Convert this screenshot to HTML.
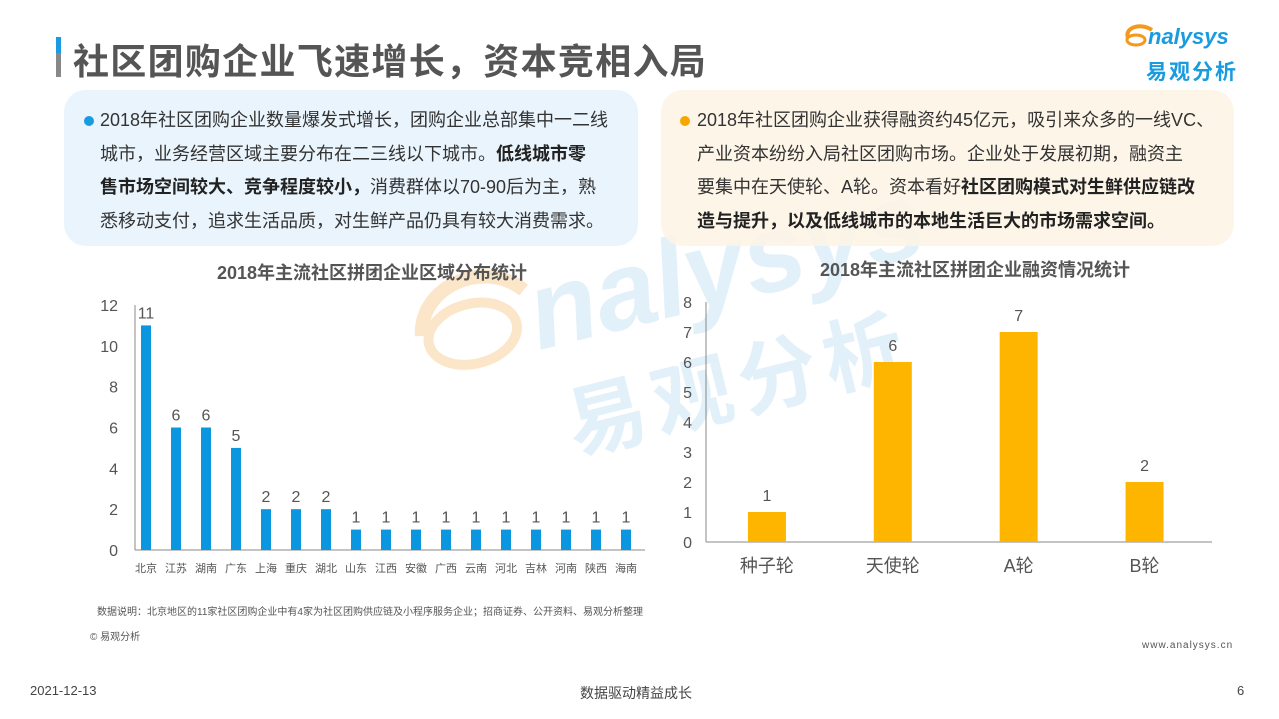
<!DOCTYPE html>
<html><head><meta charset="utf-8">
<style>
body{margin:0;width:1279px;height:719px;background:#fff;position:relative;overflow:hidden;font-family:"Liberation Sans","Noto Sans CJK SC",sans-serif;color:#333}
.abs{position:absolute}
.box{position:absolute;top:90px;height:156px;border-radius:22px;font-size:18px;line-height:33.5px;box-sizing:border-box;padding:14px 0 0 0}
.box p{margin:0;white-space:nowrap}
b{font-weight:bold;color:#222}
.dot{display:inline-block;width:10px;height:10px;border-radius:5px;position:absolute;top:26px}
</style></head><body>
<div class="abs" style="left:400px;top:290px;transform:rotate(-14deg);transform-origin:left top;opacity:0.45;pointer-events:none">
<svg width="140" height="110" style="position:absolute;left:0;top:-10px"><path d="M10 60 C20 10 90 0 120 40" stroke="#f9c98a" stroke-width="14" fill="none"/><ellipse cx="60" cy="70" rx="45" ry="30" stroke="#f9c98a" stroke-width="10" fill="none"/></svg>
<div style="font-size:110px;font-weight:bold;color:#bfdff4;font-style:italic;line-height:110px;padding-left:120px">nalysys</div>
<div style="font-size:80px;font-weight:bold;color:#bfdff4;padding-left:130px;letter-spacing:8px">易观分析</div>
</div>
<div class="abs" style="left:56px;top:37px;width:5px;height:40px;background:linear-gradient(#1a9be0 0 40%,#888 40%)"></div>
<div class="abs" style="left:73px;top:33px;font-size:36px;font-weight:bold;color:#555;letter-spacing:1.3px">社区团购企业飞速增长，资本竞相入局</div>
<div class="abs" style="left:1122px;top:18px;width:125px;height:65px">
<svg width="125" height="65" style="position:absolute;left:0;top:0"><path d="M6 20 C2 10 18 4 30 12" stroke="#f39a1e" stroke-width="4" fill="none"/><ellipse cx="14" cy="22" rx="9" ry="5" stroke="#f39a1e" stroke-width="3" fill="none"/></svg>
<div class="abs" style="left:26px;top:6px;font-size:22px;font-weight:bold;font-style:italic;color:#1a9be0">nalysys</div>
<div class="abs" style="left:24px;top:38px;font-size:21px;font-weight:bold;color:#1a9be0;letter-spacing:2px">易观分析</div>
</div>
<div class="box" style="left:64px;width:574px;background:rgba(231,243,252,0.9);padding-left:36px">
<span class="dot" style="left:20px;background:#1a9be0"></span>
<p>2018年社区团购企业数量爆发式增长，团购企业总部集中一二线</p>
<p>城市，业务经营区域主要分布在二三线以下城市。<b>低线城市零</b></p>
<p><b>售市场空间较大、竞争程度较小，</b>消费群体以70-90后为主，熟</p>
<p>悉移动支付，追求生活品质，对生鲜产品仍具有较大消费需求。</p>
</div>
<div class="box" style="left:661px;width:573px;background:rgba(253,244,230,0.9);padding-left:36px">
<span class="dot" style="left:19px;background:#f7a600"></span>
<p>2018年社区团购企业获得融资约45亿元，吸引来众多的一线VC、</p>
<p>产业资本纷纷入局社区团购市场。企业处于发展初期，融资主</p>
<p>要集中在天使轮、A轮。资本看好<b>社区团购模式对生鲜供应链改</b></p>
<p><b>造与提升，以及低线城市的本地生活巨大的市场需求空间。</b></p>
</div>
<svg class="abs" style="left:0;top:0" width="1279" height="719" id="charts"></svg>
<div class="abs" style="left:97px;top:603px;font-size:10px;color:#555">数据说明：北京地区的11家社区团购企业中有4家为社区团购供应链及小程序服务企业；招商证券、公开资料、易观分析整理</div>
<div class="abs" style="left:90px;top:628px;font-size:10px;color:#555">© 易观分析</div>
<div class="abs" style="left:1142px;top:640px;font-size:10px;color:#555;letter-spacing:1px">www.analysys.cn</div>
<div class="abs" style="left:30px;top:683px;font-size:13px;color:#444">2021-12-13</div>
<div class="abs" style="left:580px;top:683px;font-size:14px;color:#444">数据驱动精益成长</div>
<div class="abs" style="left:1237px;top:683px;font-size:13px;color:#444">6</div>
<script>
const regions=["北京","江苏","湖南","广东","上海","重庆","湖北","山东","江西","安徽","广西","云南","河北","吉林","河南","陕西","海南"];
const regionCounts=[11,6,6,5,2,2,2,1,1,1,1,1,1,1,1,1,1];
const leftTicks=[0,2,4,6,8,10,12];
const rounds=["种子轮","天使轮","A轮","B轮"];
const roundCounts=[1,6,7,2];
const rightTicks=[0,1,2,3,4,5,6,7,8];
const svg=document.getElementById('charts');
const NS='http://www.w3.org/2000/svg';
function mk(tag,attrs,text){const e=document.createElementNS(NS,tag);for(const k in attrs)e.setAttribute(k,attrs[k]);if(text!==undefined)e.textContent=text;svg.appendChild(e);return e;}
let t=mk('text',{x:372,y:279,'text-anchor':'middle','font-size':18,'font-weight':'bold',fill:'#555'},'2018年主流社区拼团企业区域分布统计');


const lx0=135,lx1=645,ly0=550,ly1=305,lmax=12;
const ly=v=>ly0-(ly0-ly1)*v/lmax;
const lstep=(lx1-lx0)/regions.length;
const lx=i=>lx0+lstep*(i+0.5)-4;
let a=mk('line',{x1:lx0,y1:ly1,x2:lx0,y2:ly0,stroke:'#888','stroke-width':1});


a=mk('line',{x1:lx0,y1:ly0,x2:lx1,y2:ly0,stroke:'#888','stroke-width':1});


leftTicks.forEach(v=>{const e=mk('text',{x:118,y:ly(v)+6,'text-anchor':'end','font-size':16,fill:'#555'},String(v));

});
regions.forEach((r,i)=>{const c=lx(i),v=regionCounts[i];
const b=mk('rect',{x:c-5,y:ly(v),width:10,height:ly0-ly(v),fill:'#0a97e0'});


const l=mk('text',{x:c,y:ly(v)-7,'text-anchor':'middle','font-size':16,fill:'#555'},String(v));


const cl=mk('text',{x:c,y:572,'text-anchor':'middle','font-size':11,fill:'#555'},r);

});
t=mk('text',{x:975,y:276,'text-anchor':'middle','font-size':18,'font-weight':'bold',fill:'#555'},'2018年主流社区拼团企业融资情况统计');


const rx0=706,rx1=1212,ry0=542,ry1=302,rmax=8;
const ry=v=>ry0-(ry0-ry1)*v/rmax;
const rstep=(rx1-rx0)/4.02;
const rx=i=>rx0+rstep*(i+0.5)-2;
a=mk('line',{x1:rx0,y1:ry1,x2:rx0,y2:ry0,stroke:'#888','stroke-width':1});


a=mk('line',{x1:rx0,y1:ry0,x2:rx1,y2:ry0,stroke:'#888','stroke-width':1});


rightTicks.forEach(v=>{const e=mk('text',{x:692,y:ry(v)+6,'text-anchor':'end','font-size':16,fill:'#555'},String(v));

});
rounds.forEach((r,i)=>{const c=rx(i),v=roundCounts[i];
const b=mk('rect',{x:c-19,y:ry(v),width:38,height:ry0-ry(v),fill:'#fdb500'});


const l=mk('text',{x:c,y:ry(v)-11,'text-anchor':'middle','font-size':16,fill:'#555'},String(v));


const cl=mk('text',{x:c,y:572,'text-anchor':'middle','font-size':18,fill:'#555'},r);

});
</script>
</body></html>
